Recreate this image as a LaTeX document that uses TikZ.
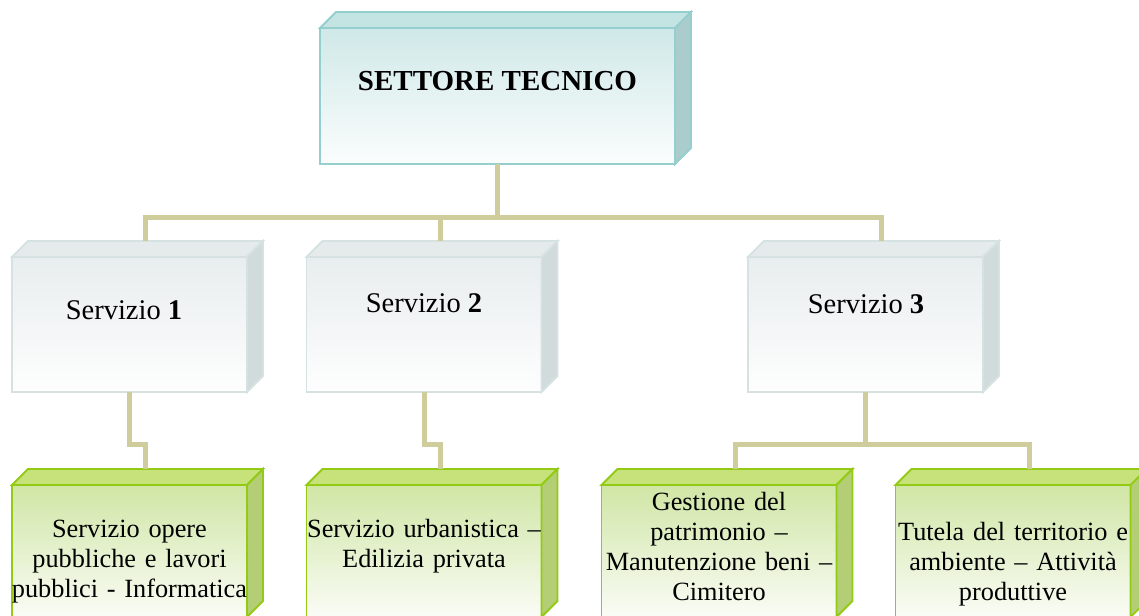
\documentclass[tikz,border=0pt]{standalone}
\usepackage{fontspec}
\setmainfont{Liberation Serif}
\usetikzlibrary{calc}

\definecolor{tealfront}{RGB}{208,232,232}
\definecolor{tealfade}{RGB}{251,253,253}
\definecolor{tealline}{RGB}{148,206,206}
\definecolor{tealtop}{RGB}{196,227,227}
\definecolor{tealside}{RGB}{170,204,204}
\definecolor{greyfront}{RGB}{232,237,238}
\definecolor{greyfade}{RGB}{254,254,254}
\definecolor{greyline}{RGB}{214,226,226}
\definecolor{greytop}{RGB}{229,234,235}
\definecolor{greyside}{RGB}{210,219,219}
\definecolor{greenfront}{RGB}{208,230,165}
\definecolor{greenfade}{RGB}{250,252,246}
\definecolor{greenline}{RGB}{146,202,20}
\definecolor{greentop}{RGB}{199,226,122}
\definecolor{greenside}{RGB}{180,206,118}
\definecolor{linkcol}{RGB}{207,205,155}

\begin{document}
\begin{tikzpicture}[x=1pt, y=-1pt,
	front/.style={rectangle, inner sep=0, outer sep=0, line width=1.8pt, minimum width=235pt},
	teal-front/.style={front, draw=tealline, top color=tealfront, bottom color=tealfade},
	grey-front/.style={front, draw=greyline, top color=greyfront, bottom color=greyfade},
	green-front/.style={front, draw=greenline, top color=greenfront, bottom color=greenfade},
	teal-top/.style={draw=tealline, fill=tealtop, line width=1.8pt},
	teal-side/.style={draw=tealline, fill=tealside, line width=1.8pt},
	grey-top/.style={draw=greyline, fill=greytop, line width=1.8pt},
	grey-side/.style={draw=greyline, fill=greyside, line width=1.8pt},
	green-top/.style={draw=greenline, fill=greentop, line width=1.8pt},
	green-side/.style={draw=greenline, fill=greenside, line width=1.8pt},
	link/.style={draw=linkcol, line width=5pt},
	svc text/.style={inner sep=0, anchor=base, font=\fontsize{28.5}{33}\selectfont},
	office text/.style={inner sep=0, anchor=base, align=center, text width=240pt,
		font=\fontsize{26.3}{30}\selectfont}]

	\useasboundingbox (0,0) rectangle (1139,615);
	\clip (0,0) rectangle (1139,615);

	% draw front faces
	\node[teal-front, minimum width=355pt, minimum height=136pt] (top) at (497.5,96) {};
	\foreach \n/\x in {s1/129.5, s2/424, s3/865.5}
	{
		\node[grey-front, minimum height=135pt] (\n) at (\x,324.5) {};
	}
	\foreach \n/\x in {a/129.5, b/424, c/719, d/1013}
	{
		\node[green-front, minimum height=132pt] (\n) at (\x,551) {};
	}

	% draw top and side faces
	\foreach \n/\s in {top/teal, s1/grey, s2/grey, s3/grey, a/green, b/green, c/green, d/green}
	{
		\filldraw[\s-top] (\n.north west) -- ++(16,-16) -- ($(\n.north east)+(16,-16)$) -- (\n.north east) -- cycle;
		\filldraw[\s-side] (\n.north east) -- ++(16,-16) -- ($(\n.south east)+(16,-16)$) -- (\n.south east) -- cycle;
		\coordinate (\n_back) at ($(\n.north)+(16,-16)$);
	}

	% draw connectors
	\draw[link] (top.south) -- ++(0,53) coordinate (bus);
	\draw[link] (s1_back) |- (bus) -| (s3_back);
	\draw[link] (bus -| s2_back) -- (s2_back);
	\draw[link] (s1.south) -- ++(0,52) -| (a_back);
	\draw[link] (s2.south) -- ++(0,52) -| (b_back);
	\draw[link] (s3.south) -- ++(0,52) coordinate (fork);
	\draw[link] (c_back) |- (fork) -| (d_back);

	% draw labels
	\node[inner sep=0, anchor=base, font=\bfseries\fontsize{29}{34}\selectfont] (top_t) at (497.5,91) {SETTORE TECNICO};
	\node[svc text] (s1_t) at (124,319) {Servizio \textbf{1}};
	\node[svc text] (s2_t) at (424,312) {Servizio \textbf{2}};
	\node[svc text] (s3_t) at (866,313) {Servizio \textbf{3}};
	\node[office text] (a_t) at (129.5,537) {Servizio opere\\pubbliche e lavori\\pubblici - Informatica};
	\node[office text] (b_t) at (424,537) {Servizio urbanistica –\\Edilizia privata};
	\node[office text] (c_t) at (719,510) {Gestione del\\patrimonio –\\Manutenzione beni –\\Cimitero};
	\node[office text] (d_t) at (1013,540) {Tutela del territorio e\\ambiente – Attività\\produttive};

\end{tikzpicture}
\end{document}
